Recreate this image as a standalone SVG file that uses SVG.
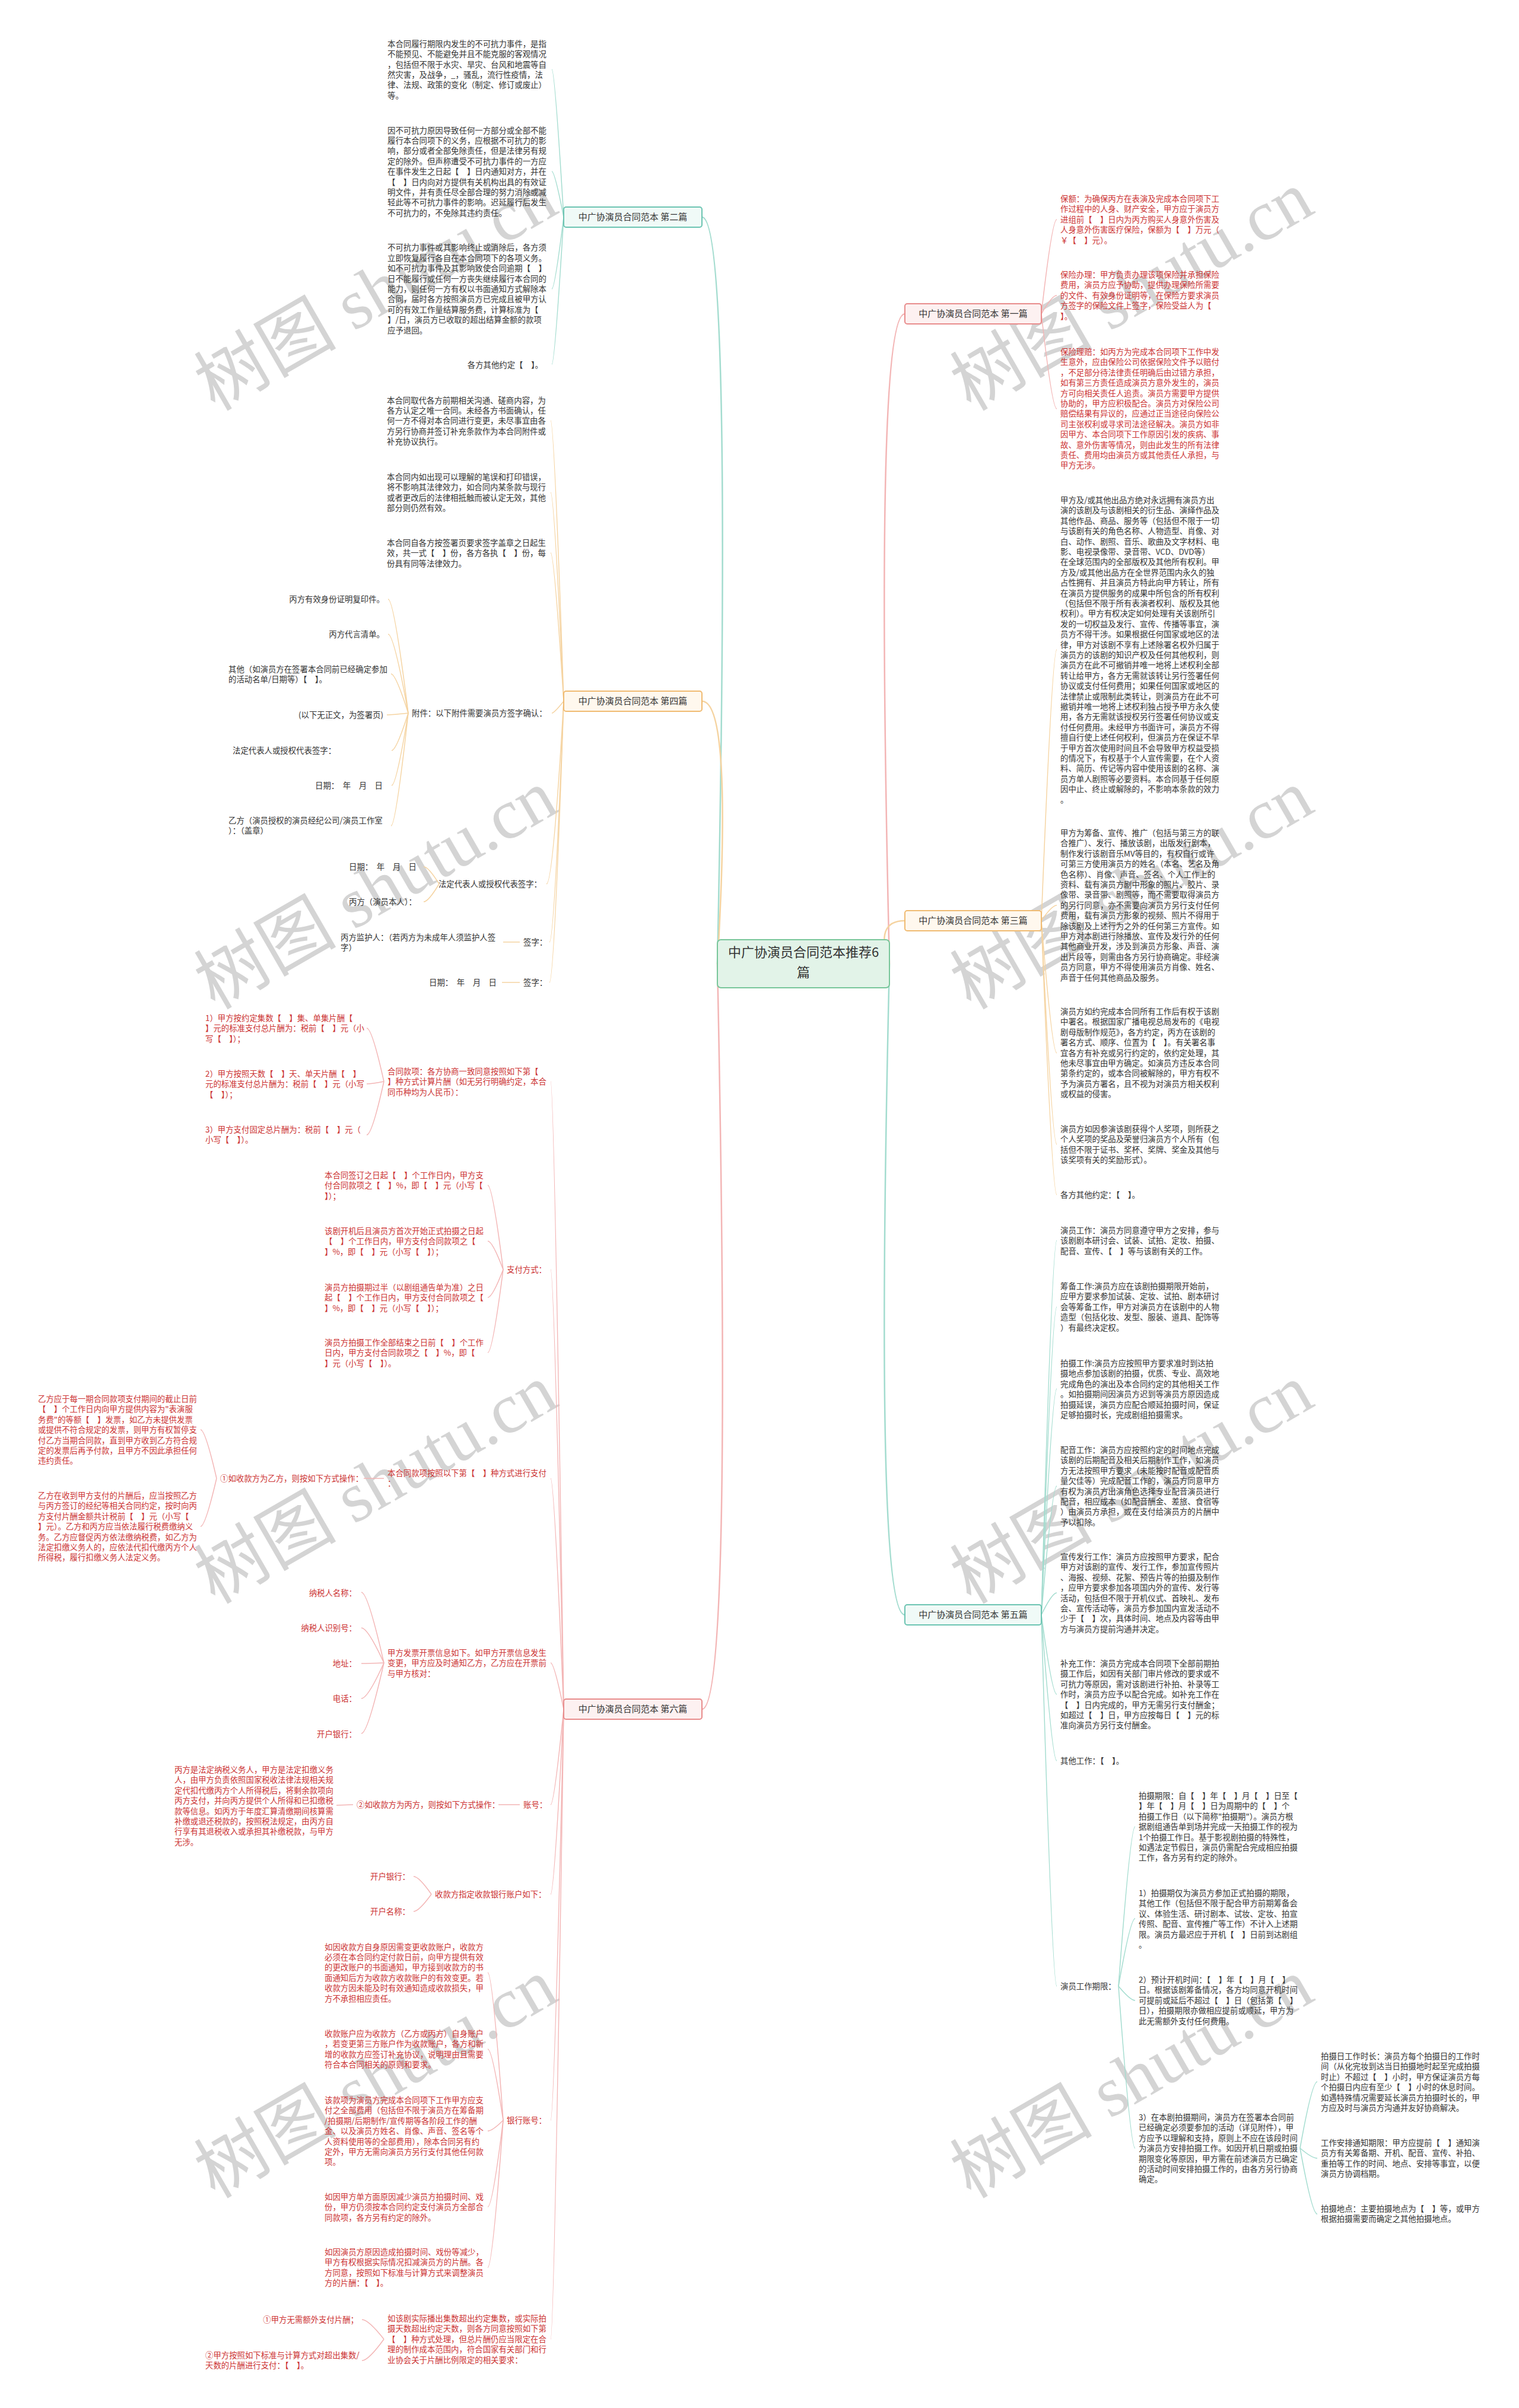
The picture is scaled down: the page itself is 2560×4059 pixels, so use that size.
<svg xmlns="http://www.w3.org/2000/svg" width="2560" height="4059" viewBox="0 0 2560 4059">
<style>
.t{font-family:"Noto Sans CJK SC","Microsoft YaHei",sans-serif;font-size:13.4px;fill:#333;white-space:pre}
.r{fill:#cc3333}
.e{text-anchor:end}
.wm{font-family:"Liberation Serif","Noto Sans CJK SC",serif;font-size:120px;fill:#d4d4d4}
.nt{font-family:"Noto Sans CJK SC","Microsoft YaHei",sans-serif;font-size:15px;fill:#333;text-anchor:middle}
.ct{fill:none;stroke:#a3dccf;stroke-width:1.5}
.co{fill:none;stroke:#f5d3a0;stroke-width:1.5}
.cp{fill:none;stroke:#f3b5b5;stroke-width:1.5}
.m{stroke-width:2.5}
</style>
<rect width="2560" height="4059" fill="#ffffff"/>
<g id="watermarks">
<text class="wm" transform="translate(362,694) rotate(-30)">树图 shutu.cn</text>
<text class="wm" transform="translate(1636,694) rotate(-30)">树图 shutu.cn</text>
<text class="wm" transform="translate(362,1703) rotate(-30)">树图 shutu.cn</text>
<text class="wm" transform="translate(1636,1703) rotate(-30)">树图 shutu.cn</text>
<text class="wm" transform="translate(362,2705) rotate(-30)">树图 shutu.cn</text>
<text class="wm" transform="translate(1636,2705) rotate(-30)">树图 shutu.cn</text>
<text class="wm" transform="translate(362,3707) rotate(-30)">树图 shutu.cn</text>
<text class="wm" transform="translate(1636,3707) rotate(-30)">树图 shutu.cn</text>
</g>
<g id="connectors">
<path class="ct m" d="M1209 1625 Q1235 366 1183 366"/>
<path class="co m" d="M1209 1625 Q1235 1182 1183 1182"/>
<path class="cp m" d="M1209 1625 Q1235 2881 1183 2881"/>
<path class="cp m" d="M1499 1625 Q1473 529 1525 529"/>
<path class="co m" d="M1499 1625 Q1473 1552 1525 1552"/>
<path class="ct m" d="M1499 1625 Q1473 2722 1525 2722"/>
<path class="ct" d="M950 366 Q935 117 930 117"/>
<path class="ct" d="M950 366 Q935 289 930 289"/>
<path class="ct" d="M950 366 Q935 487 930 487"/>
<path class="ct" d="M950 366 Q935 614 930 614"/>
<path class="co" d="M950 1182 Q934 709 928 709"/>
<path class="co" d="M950 1182 Q934 830 928 830"/>
<path class="co" d="M950 1182 Q934 932 928 932"/>
<path class="co" d="M950 1182 Q934 1202 930 1202"/>
<path class="co" d="M950 1182 Q932 1490 921 1490"/>
<path class="co" d="M950 1182 Q934 1588 926 1588"/>
<path class="co" d="M950 1182 Q934 1656 926 1656"/>
<path class="co" d="M688 1202 Q664 1010 654 1010"/>
<path class="co" d="M688 1202 Q664 1069 654 1069"/>
<path class="co" d="M688 1202 Q667 1136 659 1136"/>
<path class="co" d="M688 1202 Q662 1205 652 1205"/>
<path class="co" d="M688 1202 Q668 1265 660 1265"/>
<path class="co" d="M688 1202 Q668 1324 660 1324"/>
<path class="co" d="M688 1202 Q667 1392 659 1392"/>
<path class="co" d="M740 1490 Q722 1461 714 1461"/>
<path class="co" d="M740 1490 Q722 1520 714 1520"/>
<path class="co" d="M876 1588 L848 1588"/>
<path class="co" d="M876 1656 L846 1656"/>
<path class="cp" d="M950 2881 Q934 1823 928 1823"/>
<path class="cp" d="M950 2881 Q934 2140 928 2140"/>
<path class="cp" d="M950 2881 Q934 2492 928 2492"/>
<path class="cp" d="M950 2881 Q934 2803 928 2803"/>
<path class="cp" d="M950 2881 Q934 3042 928 3042"/>
<path class="cp" d="M950 2881 Q934 3193 928 3193"/>
<path class="cp" d="M950 2881 Q934 3574 928 3574"/>
<path class="cp" d="M950 2881 Q934 3943 928 3943"/>
<path class="cp" d="M647 1823 Q627 1733 618 1733"/>
<path class="cp" d="M647 1823 Q627 1827 618 1827"/>
<path class="cp" d="M647 1823 Q627 1913 618 1913"/>
<path class="cp" d="M848 2140 Q830 1998 822 1998"/>
<path class="cp" d="M848 2140 Q830 2092 822 2092"/>
<path class="cp" d="M848 2140 Q830 2187 822 2187"/>
<path class="cp" d="M848 2140 Q830 2280 822 2280"/>
<path class="cp" d="M647 2492 L613 2492"/>
<path class="cp" d="M365 2492 Q346 2410 338 2410"/>
<path class="cp" d="M365 2492 Q346 2573 338 2573"/>
<path class="cp" d="M647 2803 Q620 2684 609 2684"/>
<path class="cp" d="M647 2803 Q620 2744 609 2744"/>
<path class="cp" d="M647 2803 Q620 2804 609 2804"/>
<path class="cp" d="M647 2803 Q620 2863 609 2863"/>
<path class="cp" d="M647 2803 Q620 2922 609 2922"/>
<path class="cp" d="M876 3042 L840 3042"/>
<path class="cp" d="M595 3042 L567 3043"/>
<path class="cp" d="M727 3193 Q706 3163 697 3163"/>
<path class="cp" d="M727 3193 Q706 3222 697 3222"/>
<path class="cp" d="M848 3574 Q830 3325 822 3325"/>
<path class="cp" d="M848 3574 Q830 3454 822 3454"/>
<path class="cp" d="M848 3574 Q830 3592 822 3592"/>
<path class="cp" d="M848 3574 Q830 3720 822 3720"/>
<path class="cp" d="M848 3574 Q830 3822 822 3822"/>
<path class="cp" d="M647 3943 Q621 3910 610 3910"/>
<path class="cp" d="M647 3943 Q621 3979 610 3979"/>
<path class="cp" d="M1755 529 Q1773 370 1781 370"/>
<path class="cp" d="M1755 529 Q1773 498 1781 498"/>
<path class="cp" d="M1755 529 Q1773 689 1781 689"/>
<path class="co" d="M1755 1552 Q1773 1095 1781 1095"/>
<path class="co" d="M1755 1552 Q1773 1526 1781 1526"/>
<path class="co" d="M1755 1552 Q1773 1775 1781 1775"/>
<path class="co" d="M1755 1552 Q1773 1929 1781 1929"/>
<path class="co" d="M1755 1552 Q1773 2014 1781 2014"/>
<path class="ct" d="M1755 2722 Q1773 2091 1781 2091"/>
<path class="ct" d="M1755 2722 Q1773 2203 1781 2203"/>
<path class="ct" d="M1755 2722 Q1773 2341 1781 2341"/>
<path class="ct" d="M1755 2722 Q1773 2505 1781 2505"/>
<path class="ct" d="M1755 2722 Q1773 2685 1781 2685"/>
<path class="ct" d="M1755 2722 Q1773 2856 1781 2856"/>
<path class="ct" d="M1755 2722 Q1773 2968 1781 2968"/>
<path class="ct" d="M1755 2722 Q1773 3348 1781 3348"/>
<path class="ct" d="M1885 3348 Q1905 3079 1913 3079"/>
<path class="ct" d="M1885 3348 Q1905 3234 1913 3234"/>
<path class="ct" d="M1885 3348 Q1905 3372 1913 3372"/>
<path class="ct" d="M1885 3348 Q1905 3621 1913 3621"/>
<path class="ct" d="M2191 3621 Q2211 3509 2220 3509"/>
<path class="ct" d="M2191 3621 Q2211 3638 2220 3638"/>
<path class="ct" d="M2191 3621 Q2211 3732 2220 3732"/>
</g>
<g id="center">
<rect x="1209" y="1584" width="290" height="81" rx="6" fill="#e2f3e8" stroke="#78c69a" stroke-width="2"/>
<text x="1354" y="1613" style="font-family:'Noto Sans CJK SC',sans-serif;font-size:22px;fill:#333;text-anchor:middle">中广协演员合同范本推荐6</text>
<text x="1354" y="1647" style="font-family:'Noto Sans CJK SC',sans-serif;font-size:22px;fill:#333;text-anchor:middle">篇</text>
</g>
<g id="n2">
<rect x="950" y="349" width="233" height="34" rx="4" fill="#f0faf7" stroke="#6cc4b2" stroke-width="2"/>
<text class="nt" x="1066.5" y="371">中广协演员合同范本 第二篇</text>
</g>
<g id="n4">
<rect x="950" y="1165" width="233" height="34" rx="4" fill="#fff8ee" stroke="#f0bb72" stroke-width="2"/>
<text class="nt" x="1066.5" y="1187">中广协演员合同范本 第四篇</text>
</g>
<g id="n6">
<rect x="950" y="2864" width="233" height="34" rx="4" fill="#fdf1f1" stroke="#e88c8c" stroke-width="2"/>
<text class="nt" x="1066.5" y="2886">中广协演员合同范本 第六篇</text>
</g>
<g id="n1">
<rect x="1525" y="512" width="230" height="34" rx="4" fill="#fdf1f1" stroke="#e88c8c" stroke-width="2"/>
<text class="nt" x="1640" y="534">中广协演员合同范本 第一篇</text>
</g>
<g id="n3">
<rect x="1525" y="1535" width="230" height="34" rx="4" fill="#fff8ee" stroke="#f0bb72" stroke-width="2"/>
<text class="nt" x="1640" y="1557">中广协演员合同范本 第三篇</text>
</g>
<g id="n5">
<rect x="1525" y="2705" width="230" height="34" rx="4" fill="#f0faf7" stroke="#6cc4b2" stroke-width="2"/>
<text class="nt" x="1640" y="2727">中广协演员合同范本 第五篇</text>
</g>
<g id="leaves2">
<text class="t" x="653" y="78.7"><tspan x="653">本合同履行期限内发生的不可抗力事件，是指</tspan><tspan x="653" dy="17.4">不能预见、不能避免并且不能克服的客观情况</tspan><tspan x="653" dy="17.4">，包括但不限于水灾、旱灾、台风和地震等自</tspan><tspan x="653" dy="17.4">然灾害，及战争，_，骚乱，流行性疫情，法</tspan><tspan x="653" dy="17.4">律、法规、政策的变化（制定、修订或废止）</tspan><tspan x="653" dy="17.4">等。</tspan></text>
<text class="t" x="653" y="224.5"><tspan x="653">因不可抗力原因导致任何一方部分或全部不能</tspan><tspan x="653" dy="17.4">履行本合同项下的义务，应根据不可抗力的影</tspan><tspan x="653" dy="17.4">响，部分或者全部免除责任，但是法律另有规</tspan><tspan x="653" dy="17.4">定的除外。但声称遭受不可抗力事件的一方应</tspan><tspan x="653" dy="17.4">在事件发生之日起【　】日内通知对方，并在</tspan><tspan x="653" dy="17.4">【　】日内向对方提供有关机构出具的有效证</tspan><tspan x="653" dy="17.4">明文件，并有责任尽全部合理的努力消除或减</tspan><tspan x="653" dy="17.4">轻此等不可抗力事件的影响。迟延履行后发生</tspan><tspan x="653" dy="17.4">不可抗力的，不免除其违约责任。</tspan></text>
<text class="t" x="653" y="422.4"><tspan x="653">不可抗力事件或其影响终止或消除后，各方须</tspan><tspan x="653" dy="17.4">立即恢复履行各自在本合同项下的各项义务。</tspan><tspan x="653" dy="17.4">如不可抗力事件及其影响致使合同逾期【　】</tspan><tspan x="653" dy="17.4">日不能履行或任何一方丧失继续履行本合同的</tspan><tspan x="653" dy="17.4">能力，则任何一方有权以书面通知方式解除本</tspan><tspan x="653" dy="17.4">合同，届时各方按照演员方已完成且被甲方认</tspan><tspan x="653" dy="17.4">可的有效工作量结算服务费，计算标准为【</tspan><tspan x="653" dy="17.4">】/日，演员方已收取的超出结算金额的款项</tspan><tspan x="653" dy="17.4">应予退回。</tspan></text>
<text class="t e" x="915" y="619.5">各方其他约定【　】。</text>
</g>
<g id="leaves4">
<text class="t" x="652" y="679.6"><tspan x="652">本合同取代各方前期相关沟通、磋商内容，为</tspan><tspan x="652" dy="17.4">各方认定之唯一合同。未经各方书面确认，任</tspan><tspan x="652" dy="17.4">何一方不得对本合同进行变更，未尽事宜由各</tspan><tspan x="652" dy="17.4">方另行协商并签订补充条款作为本合同附件或</tspan><tspan x="652" dy="17.4">补充协议执行。</tspan></text>
<text class="t" x="652" y="809"><tspan x="652">本合同内如出现可以理解的笔误和打印错误，</tspan><tspan x="652" dy="17.4">将不影响其法律效力，如合同内某条款与现行</tspan><tspan x="652" dy="17.4">或者更改后的法律相抵触而被认定无效，其他</tspan><tspan x="652" dy="17.4">部分则仍然有效。</tspan></text>
<text class="t" x="652" y="920"><tspan x="652">本合同自各方按签署页要求签字盖章之日起生</tspan><tspan x="652" dy="17.4">效，共一式【　】份，各方各执【　】份，每</tspan><tspan x="652" dy="17.4">份具有同等法律效力。</tspan></text>
<text class="t e" x="648" y="1014.6">丙方有效身份证明复印件。</text>
<text class="t e" x="648" y="1073.6">丙方代言清单。</text>
<text class="t" x="385" y="1132.5"><tspan x="385">其他（如演员方在签署本合同前已经确定参加</tspan><tspan x="385" dy="17.4">的活动名单/日期等）【　】。</tspan></text>
<text class="t e" x="646" y="1210">(以下无正文，为签署页)</text>
<text class="t" x="694" y="1206.7">附件：以下附件需要演员方签字确认：</text>
<text class="t" x="392" y="1270">法定代表人或授权代表签字：</text>
<text class="t" x="531" y="1329">日期：　年　月　日</text>
<text class="t" x="385" y="1388"><tspan x="385">乙方（演员授权的演员经纪公司/演员工作室</tspan><tspan x="385" dy="17.4">）：（盖章）</tspan></text>
<text class="t" x="588" y="1466">日期：　年　月　日</text>
<text class="t e" x="913" y="1495">法定代表人或授权代表签字：</text>
<text class="t" x="588" y="1525">丙方（演员本人）：</text>
<text class="t" x="574" y="1585"><tspan x="574">丙方监护人：（若丙方为未成年人须监护人签</tspan><tspan x="574" dy="17.4">字）</tspan></text>
<text class="t" x="882" y="1593">签字：</text>
<text class="t" x="723" y="1661">日期：　年　月　日</text>
<text class="t" x="882" y="1661">签字：</text>
</g>
<g id="leaves6">
<text class="t r" x="346" y="1721"><tspan x="346">1）甲方按约定集数【　】集、单集片酬【</tspan><tspan x="346" dy="17.4">】元的标准支付总片酬为：税前【　】元（小</tspan><tspan x="346" dy="17.4">写【　】）；</tspan></text>
<text class="t r" x="346" y="1815"><tspan x="346">2）甲方按照天数【　】天、单天片酬【　】</tspan><tspan x="346" dy="17.4">元的标准支付总片酬为：税前【　】元（小写</tspan><tspan x="346" dy="17.4">【　】）；</tspan></text>
<text class="t r" x="346" y="1909"><tspan x="346">3）甲方支付固定总片酬为：税前【　】元（</tspan><tspan x="346" dy="17.4">小写【　】）。</tspan></text>
<text class="t r" x="653" y="1811"><tspan x="653">合同款项：各方协商一致同意按照如下第【</tspan><tspan x="653" dy="17.4">】种方式计算片酬（如无另行明确约定，本合</tspan><tspan x="653" dy="17.4">同币种均为人民币）：</tspan></text>
<text class="t r" x="547" y="1986"><tspan x="547">本合同签订之日起【　】个工作日内，甲方支</tspan><tspan x="547" dy="17.4">付合同款项之【　】%，即【　】元（小写【</tspan><tspan x="547" dy="17.4">】）；</tspan></text>
<text class="t r" x="547" y="2080"><tspan x="547">该剧开机后且演员方首次开始正式拍摄之日起</tspan><tspan x="547" dy="17.4">【　】个工作日内，甲方支付合同款项之【</tspan><tspan x="547" dy="17.4">】%，即【　】元（小写【　】）；</tspan></text>
<text class="t r" x="547" y="2175"><tspan x="547">演员方拍摄期过半（以剧组通告单为准）之日</tspan><tspan x="547" dy="17.4">起【　】个工作日内，甲方支付合同款项之【</tspan><tspan x="547" dy="17.4">】%，即【　】元（小写【　】）；</tspan></text>
<text class="t r" x="547" y="2268"><tspan x="547">演员方拍摄工作全部结束之日前【　】个工作</tspan><tspan x="547" dy="17.4">日内，甲方支付合同款项之【　】%，即【</tspan><tspan x="547" dy="17.4">】元（小写【　】）。</tspan></text>
<text class="t r" x="854" y="2145">支付方式：</text>
<text class="t r" x="64" y="2363"><tspan x="64">乙方应于每一期合同款项支付期间的截止日前</tspan><tspan x="64" dy="17.4">【　】个工作日内向甲方提供内容为"表演服</tspan><tspan x="64" dy="17.4">务费"的等额【　】发票，如乙方未提供发票</tspan><tspan x="64" dy="17.4">或提供不符合规定的发票，则甲方有权暂停支</tspan><tspan x="64" dy="17.4">付乙方当期合同款，直到甲方收到乙方符合规</tspan><tspan x="64" dy="17.4">定的发票后再予付款，且甲方不因此承担任何</tspan><tspan x="64" dy="17.4">违约责任。</tspan></text>
<text class="t r" x="64" y="2526"><tspan x="64">乙方在收到甲方支付的片酬后，应当按照乙方</tspan><tspan x="64" dy="17.4">与丙方签订的经纪等相关合同约定，按时向丙</tspan><tspan x="64" dy="17.4">方支付片酬金额共计税前【　】元（小写【</tspan><tspan x="64" dy="17.4">】元）。乙方和丙方应当依法履行税费缴纳义</tspan><tspan x="64" dy="17.4">务。乙方应督促丙方依法缴纳税费，如乙方为</tspan><tspan x="64" dy="17.4">法定扣缴义务人的，应依法代扣代缴丙方个人</tspan><tspan x="64" dy="17.4">所得税，履行扣缴义务人法定义务。</tspan></text>
<text class="t r" x="371" y="2496.5">①如收款方为乙方，则按如下方式操作：</text>
<text class="t r" x="653" y="2488"><tspan x="653">本合同款项按照以下第【　】种方式进行支付</tspan><tspan x="653" dy="17.4">：</tspan></text>
<text class="t r e" x="601" y="2689.5">纳税人名称：</text>
<text class="t r e" x="601" y="2749">纳税人识别号：</text>
<text class="t r e" x="601" y="2809">地址：</text>
<text class="t r e" x="601" y="2868">电话：</text>
<text class="t r e" x="601" y="2927.5">开户银行：</text>
<text class="t r" x="653" y="2791"><tspan x="653">甲方发票开票信息如下。如甲方开票信息发生</tspan><tspan x="653" dy="17.4">变更，甲方应及时通知乙方，乙方应在开票前</tspan><tspan x="653" dy="17.4">与甲方核对：</tspan></text>
<text class="t r" x="294" y="2988"><tspan x="294">丙方是法定纳税义务人，甲方是法定扣缴义务</tspan><tspan x="294" dy="17.4">人，由甲方负责依照国家税收法律法规相关规</tspan><tspan x="294" dy="17.4">定代扣代缴丙方个人所得税后，将剩余款项向</tspan><tspan x="294" dy="17.4">丙方支付，并向丙方提供个人所得和已扣缴税</tspan><tspan x="294" dy="17.4">款等信息。如丙方于年度汇算清缴期间核算需</tspan><tspan x="294" dy="17.4">补缴或退还税款的，按照税法规定，由丙方自</tspan><tspan x="294" dy="17.4">行享有其退税收入或承担其补缴税款，与甲方</tspan><tspan x="294" dy="17.4">无涉。</tspan></text>
<text class="t r" x="601" y="3047">②如收款方为丙方，则按如下方式操作：</text>
<text class="t r" x="882" y="3047">账号：</text>
<text class="t r" x="624" y="3168">开户银行：</text>
<text class="t r" x="733" y="3198">收款方指定收款银行账户如下：</text>
<text class="t r" x="624" y="3227">开户名称：</text>
<text class="t r" x="547" y="3286.6"><tspan x="547">如因收款方自身原因需变更收款账户，收款方</tspan><tspan x="547" dy="17.4">必须在本合同约定付款日前，向甲方提供有效</tspan><tspan x="547" dy="17.4">的更改账户的书面通知，甲方接到收款方的书</tspan><tspan x="547" dy="17.4">面通知后方为收款方收款账户的有效变更。若</tspan><tspan x="547" dy="17.4">收款方因未能及时有效通知造成收款损失，甲</tspan><tspan x="547" dy="17.4">方不承担相应责任。</tspan></text>
<text class="t r" x="547" y="3433"><tspan x="547">收款账户应为收款方（乙方或丙方）自身账户</tspan><tspan x="547" dy="17.4">，若变更第三方账户作为收款账户，各方和新</tspan><tspan x="547" dy="17.4">增的收款方应签订补充协议，说明理由且需要</tspan><tspan x="547" dy="17.4">符合本合同相关的原则和要求。</tspan></text>
<text class="t r" x="547" y="3545"><tspan x="547">该款项为演员方完成本合同项下工作甲方应支</tspan><tspan x="547" dy="17.4">付之全部费用（包括但不限于演员方在筹备期</tspan><tspan x="547" dy="17.4">/拍摄期/后期制作/宣传期等各阶段工作的酬</tspan><tspan x="547" dy="17.4">金、以及演员方姓名、肖像、声音、签名等个</tspan><tspan x="547" dy="17.4">人资料使用等的全部费用），除本合同另有约</tspan><tspan x="547" dy="17.4">定外，甲方无需向演员方另行支付其他任何款</tspan><tspan x="547" dy="17.4">项。</tspan></text>
<text class="t r" x="854" y="3579">银行账号：</text>
<text class="t r" x="547" y="3708"><tspan x="547">如因甲方单方面原因减少演员方拍摄时间、戏</tspan><tspan x="547" dy="17.4">份，甲方仍须按本合同约定支付演员方全部合</tspan><tspan x="547" dy="17.4">同款项，各方另有约定的除外。</tspan></text>
<text class="t r" x="547" y="3801"><tspan x="547">如因演员方原因造成拍摄时间、戏份等减少，</tspan><tspan x="547" dy="17.4">甲方有权根据实际情况扣减演员方的片酬。各</tspan><tspan x="547" dy="17.4">方同意，按照如下标准与计算方式来调整演员</tspan><tspan x="547" dy="17.4">方的片酬：【　】。</tspan></text>
<text class="t r e" x="604" y="3915">①甲方无需额外支付片酬；</text>
<text class="t r" x="346" y="3975"><tspan x="346">②甲方按照如下标准与计算方式对超出集数/</tspan><tspan x="346" dy="17.4">天数的片酬进行支付：【　】。</tspan></text>
<text class="t r" x="653" y="3913"><tspan x="653">如该剧实际播出集数超出约定集数，或实际拍</tspan><tspan x="653" dy="17.4">摄天数超出约定天数，则各方同意按照如下第</tspan><tspan x="653" dy="17.4">【　】种方式处理，但总片酬仍应当限定在合</tspan><tspan x="653" dy="17.4">理的制作成本范围内，符合国家有关部门和行</tspan><tspan x="653" dy="17.4">业协会关于片酬比例限定的相关要求：</tspan></text>
</g>
<g id="leaves1">
<text class="t r" x="1787" y="340"><tspan x="1787">保额：为确保丙方在表演及完成本合同项下工</tspan><tspan x="1787" dy="17.4">作过程中的人身、财产安全，甲方应于演员方</tspan><tspan x="1787" dy="17.4">进组前【　】日内为丙方购买人身意外伤害及</tspan><tspan x="1787" dy="17.4">人身意外伤害医疗保险，保额为【　】万元（</tspan><tspan x="1787" dy="17.4">￥【　】元）。</tspan></text>
<text class="t r" x="1787" y="468"><tspan x="1787">保险办理：甲方负责办理该项保险并承担保险</tspan><tspan x="1787" dy="17.4">费用，演员方应予协助，提供办理保险所需要</tspan><tspan x="1787" dy="17.4">的文件、有效身份证明等，在保险方要求演员</tspan><tspan x="1787" dy="17.4">方签字的保险文件上签字，保险受益人为【</tspan><tspan x="1787" dy="17.4">】。</tspan></text>
<text class="t r" x="1787" y="598"><tspan x="1787">保险理赔：如丙方为完成本合同项下工作中发</tspan><tspan x="1787" dy="17.4">生意外，应由保险公司依据保险文件予以赔付</tspan><tspan x="1787" dy="17.4">，不足部分待法律责任明确后由过错方承担，</tspan><tspan x="1787" dy="17.4">如有第三方责任造成演员方意外发生的，演员</tspan><tspan x="1787" dy="17.4">方可向相关责任人追责。演员方需要甲方提供</tspan><tspan x="1787" dy="17.4">协助的，甲方应积极配合。演员方对保险公司</tspan><tspan x="1787" dy="17.4">赔偿结果有异议的，应通过正当途径向保险公</tspan><tspan x="1787" dy="17.4">司主张权利或寻求司法途径解决。演员方如非</tspan><tspan x="1787" dy="17.4">因甲方、本合同项下工作原因引发的疾病、事</tspan><tspan x="1787" dy="17.4">故、意外伤害等情况，则由此发生的所有法律</tspan><tspan x="1787" dy="17.4">责任、费用均由演员方或其他责任人承担，与</tspan><tspan x="1787" dy="17.4">甲方无涉。</tspan></text>
</g>
<g id="leaves3">
<text class="t" x="1787" y="848"><tspan x="1787">甲方及/或其他出品方绝对永远拥有演员方出</tspan><tspan x="1787" dy="17.4">演的该剧及与该剧相关的衍生品、演绎作品及</tspan><tspan x="1787" dy="17.4">其他作品、商品、服务等（包括但不限于一切</tspan><tspan x="1787" dy="17.4">与该剧有关的角色名称、人物造型、肖像、对</tspan><tspan x="1787" dy="17.4">白、动作、剧照、音乐、歌曲及文字材料、电</tspan><tspan x="1787" dy="17.4">影、电视录像带、录音带、VCD、DVD等）</tspan><tspan x="1787" dy="17.4">在全球范围内的全部版权及其他所有权利。甲</tspan><tspan x="1787" dy="17.4">方及/或其他出品方在全世界范围内永久的独</tspan><tspan x="1787" dy="17.4">占性拥有、并且演员方特此向甲方转让，所有</tspan><tspan x="1787" dy="17.4">在演员方提供服务的成果中所包含的所有权利</tspan><tspan x="1787" dy="17.4">（包括但不限于所有表演者权利、版权及其他</tspan><tspan x="1787" dy="17.4">权利）。甲方有权决定如何处理有关该剧所引</tspan><tspan x="1787" dy="17.4">发的一切权益及发行、宣传、传播等事宜，演</tspan><tspan x="1787" dy="17.4">员方不得干涉。如果根据任何国家或地区的法</tspan><tspan x="1787" dy="17.4">律，甲方对该剧不享有上述除署名权外归属于</tspan><tspan x="1787" dy="17.4">演员方的该剧的知识产权及任何其他权利，则</tspan><tspan x="1787" dy="17.4">演员方在此不可撤销并唯一地将上述权利全部</tspan><tspan x="1787" dy="17.4">转让给甲方，各方无需就该转让另行签署任何</tspan><tspan x="1787" dy="17.4">协议或支付任何费用；如果任何国家或地区的</tspan><tspan x="1787" dy="17.4">法律禁止或限制此类转让，则演员方在此不可</tspan><tspan x="1787" dy="17.4">撤销并唯一地将上述权利独占授予甲方永久使</tspan><tspan x="1787" dy="17.4">用，各方无需就该授权另行签署任何协议或支</tspan><tspan x="1787" dy="17.4">付任何费用。未经甲方书面许可，演员方不得</tspan><tspan x="1787" dy="17.4">擅自行使上述任何权利，但演员方在保证不早</tspan><tspan x="1787" dy="17.4">于甲方首次使用时间且不会导致甲方权益受损</tspan><tspan x="1787" dy="17.4">的情况下，有权基于个人宣传需要，在个人资</tspan><tspan x="1787" dy="17.4">料、简历、传记等内容中使用该剧的名称、演</tspan><tspan x="1787" dy="17.4">员方单人剧照等必要资料。本合同基于任何原</tspan><tspan x="1787" dy="17.4">因中止、终止或解除的，不影响本条款的效力</tspan><tspan x="1787" dy="17.4">。</tspan></text>
<text class="t" x="1787" y="1409"><tspan x="1787">甲方为筹备、宣传、推广（包括与第三方的联</tspan><tspan x="1787" dy="17.4">合推广）、发行、播放该剧，出版发行剧本，</tspan><tspan x="1787" dy="17.4">制作发行该剧音乐MV等目的，有权自行或许</tspan><tspan x="1787" dy="17.4">可第三方使用演员方的姓名（本名、艺名及角</tspan><tspan x="1787" dy="17.4">色名称）、肖像、声音、签名、个人工作上的</tspan><tspan x="1787" dy="17.4">资料、载有演员方剧中形象的照片、胶片、录</tspan><tspan x="1787" dy="17.4">像带、录音带、剧照等，而不需要取得演员方</tspan><tspan x="1787" dy="17.4">的另行同意，亦不需要向演员方另行支付任何</tspan><tspan x="1787" dy="17.4">费用，载有演员方形象的视频、照片不得用于</tspan><tspan x="1787" dy="17.4">除该剧及上述行为之外的任何第三方宣传。如</tspan><tspan x="1787" dy="17.4">甲方对本剧进行除播放、宣传及发行外的任何</tspan><tspan x="1787" dy="17.4">其他商业开发，涉及到演员方形象、声音、演</tspan><tspan x="1787" dy="17.4">出片段等，则需由各方另行协商确定。非经演</tspan><tspan x="1787" dy="17.4">员方同意，甲方不得使用演员方肖像、姓名、</tspan><tspan x="1787" dy="17.4">声音于任何其他商品及服务。</tspan></text>
<text class="t" x="1787" y="1710"><tspan x="1787">演员方如约完成本合同所有工作后有权于该剧</tspan><tspan x="1787" dy="17.4">中署名。根据国家广播电视总局发布的《电视</tspan><tspan x="1787" dy="17.4">剧母版制作规范》，各方约定，丙方在该剧的</tspan><tspan x="1787" dy="17.4">署名方式、顺序、位置为【　】。有关署名事</tspan><tspan x="1787" dy="17.4">宜各方有补充或另行约定的，依约定处理，其</tspan><tspan x="1787" dy="17.4">他未尽事宜由甲方确定。如演员方违反本合同</tspan><tspan x="1787" dy="17.4">第条约定的，或本合同被解除的，甲方有权不</tspan><tspan x="1787" dy="17.4">予为演员方署名，且不视为对演员方相关权利</tspan><tspan x="1787" dy="17.4">或权益的侵害。</tspan></text>
<text class="t" x="1787" y="1908"><tspan x="1787">演员方如因参演该剧获得个人奖项，则所获之</tspan><tspan x="1787" dy="17.4">个人奖项的奖品及荣誉归演员方个人所有（包</tspan><tspan x="1787" dy="17.4">括但不限于证书、奖杯、奖牌、奖金及其他与</tspan><tspan x="1787" dy="17.4">该奖项有关的奖励形式）。</tspan></text>
<text class="t" x="1787" y="2019">各方其他约定：【　】。</text>
</g>
<g id="leaves5">
<text class="t" x="1787" y="2079"><tspan x="1787">演员工作：演员方同意遵守甲方之安排，参与</tspan><tspan x="1787" dy="17.4">该剧剧本研讨会、试装、试拍、定妆、拍摄、</tspan><tspan x="1787" dy="17.4">配音、宣传、【　】等与该剧有关的工作。</tspan></text>
<text class="t" x="1787" y="2173"><tspan x="1787">筹备工作:演员方应在该剧拍摄期限开始前，</tspan><tspan x="1787" dy="17.4">应甲方要求参加试装、定妆、试拍、剧本研讨</tspan><tspan x="1787" dy="17.4">会等筹备工作，甲方对演员方在该剧中的人物</tspan><tspan x="1787" dy="17.4">造型（包括化妆、发型、服装、道具、配饰等</tspan><tspan x="1787" dy="17.4">）有最终决定权。</tspan></text>
<text class="t" x="1787" y="2303"><tspan x="1787">拍摄工作:演员方应按照甲方要求准时到达拍</tspan><tspan x="1787" dy="17.4">摄地点参加该剧的拍摄，优质、专业、高效地</tspan><tspan x="1787" dy="17.4">完成角色的演出及本合同约定的其他相关工作</tspan><tspan x="1787" dy="17.4">。如拍摄期间因演员方迟到等演员方原因造成</tspan><tspan x="1787" dy="17.4">拍摄延误，演员方应配合顺延拍摄时间，保证</tspan><tspan x="1787" dy="17.4">足够拍摄时长，完成剧组拍摄需求。</tspan></text>
<text class="t" x="1787" y="2449"><tspan x="1787">配音工作：演员方应按照约定的时间地点完成</tspan><tspan x="1787" dy="17.4">该剧的后期配音及相关后期制作工作，如演员</tspan><tspan x="1787" dy="17.4">方无法按照甲方要求（未能按时配音或配音质</tspan><tspan x="1787" dy="17.4">量欠佳等）完成配音工作的，演员方同意甲方</tspan><tspan x="1787" dy="17.4">有权为演员方出演角色选择专业配音演员进行</tspan><tspan x="1787" dy="17.4">配音，相应成本（如配音酬金、差旅、食宿等</tspan><tspan x="1787" dy="17.4">）由演员方承担，或在支付给演员方的片酬中</tspan><tspan x="1787" dy="17.4">予以扣除。</tspan></text>
<text class="t" x="1787" y="2629"><tspan x="1787">宣传发行工作：演员方应按照甲方要求，配合</tspan><tspan x="1787" dy="17.4">甲方对该剧的宣传、发行工作，参加宣传照片</tspan><tspan x="1787" dy="17.4">、海报、视频、花絮、预告片等的拍摄及制作</tspan><tspan x="1787" dy="17.4">，应甲方要求参加各项国内外的宣传、发行等</tspan><tspan x="1787" dy="17.4">活动，包括但不限于开机仪式、首映礼、发布</tspan><tspan x="1787" dy="17.4">会、宣传活动等，演员方参加国内宣发活动不</tspan><tspan x="1787" dy="17.4">少于【　】次，具体时间、地点及内容等由甲</tspan><tspan x="1787" dy="17.4">方与演员方提前沟通并决定。</tspan></text>
<text class="t" x="1787" y="2809"><tspan x="1787">补充工作：演员方完成本合同项下全部前期拍</tspan><tspan x="1787" dy="17.4">摄工作后，如因有关部门审片修改的要求或不</tspan><tspan x="1787" dy="17.4">可抗力等原因，需对该剧进行补拍、补录等工</tspan><tspan x="1787" dy="17.4">作时，演员方应予以配合完成。如补充工作在</tspan><tspan x="1787" dy="17.4">【　】日内完成的，甲方无需另行支付酬金；</tspan><tspan x="1787" dy="17.4">如超过【　】日，甲方应按每日【　】元的标</tspan><tspan x="1787" dy="17.4">准向演员方另行支付酬金。</tspan></text>
<text class="t" x="1787" y="2973">其他工作：【　】。</text>
<text class="t" x="1787" y="3353">演员工作期限：</text>
<text class="t" x="1919" y="3032"><tspan x="1919">拍摄期限：自【　】年【　】月【　】日至【</tspan><tspan x="1919" dy="17.4">】年【　】月【　】日为周期中的【　】个</tspan><tspan x="1919" dy="17.4">拍摄工作日（以下简称"拍摄期"）。演员方根</tspan><tspan x="1919" dy="17.4">据剧组通告单到场并完成一天拍摄工作的视为</tspan><tspan x="1919" dy="17.4">1个拍摄工作日。基于影视剧拍摄的特殊性，</tspan><tspan x="1919" dy="17.4">如遇法定节假日，演员仍需配合完成相应拍摄</tspan><tspan x="1919" dy="17.4">工作，各方另有约定的除外。</tspan></text>
<text class="t" x="1919" y="3196"><tspan x="1919">1）拍摄期仅为演员方参加正式拍摄的期限，</tspan><tspan x="1919" dy="17.4">其他工作（包括但不限于配合甲方前期筹备会</tspan><tspan x="1919" dy="17.4">议、体验生活、研讨剧本、试妆、定妆、拍宣</tspan><tspan x="1919" dy="17.4">传照、配音、宣传推广等工作）不计入上述期</tspan><tspan x="1919" dy="17.4">限。演员方最迟应于开机【　】日前到达剧组</tspan><tspan x="1919" dy="17.4">。</tspan></text>
<text class="t" x="1919" y="3342"><tspan x="1919">2）预计开机时间：【　】年【　】月【　】</tspan><tspan x="1919" dy="17.4">日。根据该剧筹备情况，各方均同意开机时间</tspan><tspan x="1919" dy="17.4">可提前或延后不超过【　】日（包括第【　】</tspan><tspan x="1919" dy="17.4">日），拍摄期限亦做相应提前或顺延，甲方为</tspan><tspan x="1919" dy="17.4">此无需额外支付任何费用。</tspan></text>
<text class="t" x="1919" y="3574"><tspan x="1919">3）在本剧拍摄期间，演员方在签署本合同前</tspan><tspan x="1919" dy="17.4">已经确定必须要参加的活动（详见附件），甲</tspan><tspan x="1919" dy="17.4">方应予以理解和支持，原则上不应在该段时间</tspan><tspan x="1919" dy="17.4">为演员方安排拍摄工作。如因开机日期或拍摄</tspan><tspan x="1919" dy="17.4">期限变化等原因，甲方需在前述演员方已确定</tspan><tspan x="1919" dy="17.4">的活动时间安排拍摄工作的，由各方另行协商</tspan><tspan x="1919" dy="17.4">确定。</tspan></text>
<text class="t" x="2226" y="3471"><tspan x="2226">拍摄日工作时长：演员方每个拍摄日的工作时</tspan><tspan x="2226" dy="17.4">间（从化完妆到达当日拍摄地时起至完成拍摄</tspan><tspan x="2226" dy="17.4">时止）不超过【　】小时，甲方保证演员方每</tspan><tspan x="2226" dy="17.4">个拍摄日内应有至少【　】小时的休息时间。</tspan><tspan x="2226" dy="17.4">如遇特殊情况需要延长演员方拍摄时长的，甲</tspan><tspan x="2226" dy="17.4">方应及时与演员方沟通并友好协商解决。</tspan></text>
<text class="t" x="2226" y="3617"><tspan x="2226">工作安排通知期限：甲方应提前【　】通知演</tspan><tspan x="2226" dy="17.4">员方有关筹备期、开机、配音、宣传、补拍、</tspan><tspan x="2226" dy="17.4">重拍等工作的时间、地点、安排等事宜，以便</tspan><tspan x="2226" dy="17.4">演员方协调档期。</tspan></text>
<text class="t" x="2226" y="3728"><tspan x="2226">拍摄地点：主要拍摄地点为【　】等，或甲方</tspan><tspan x="2226" dy="17.4">根据拍摄需要而确定之其他拍摄地点。</tspan></text>
</g>
</svg>
